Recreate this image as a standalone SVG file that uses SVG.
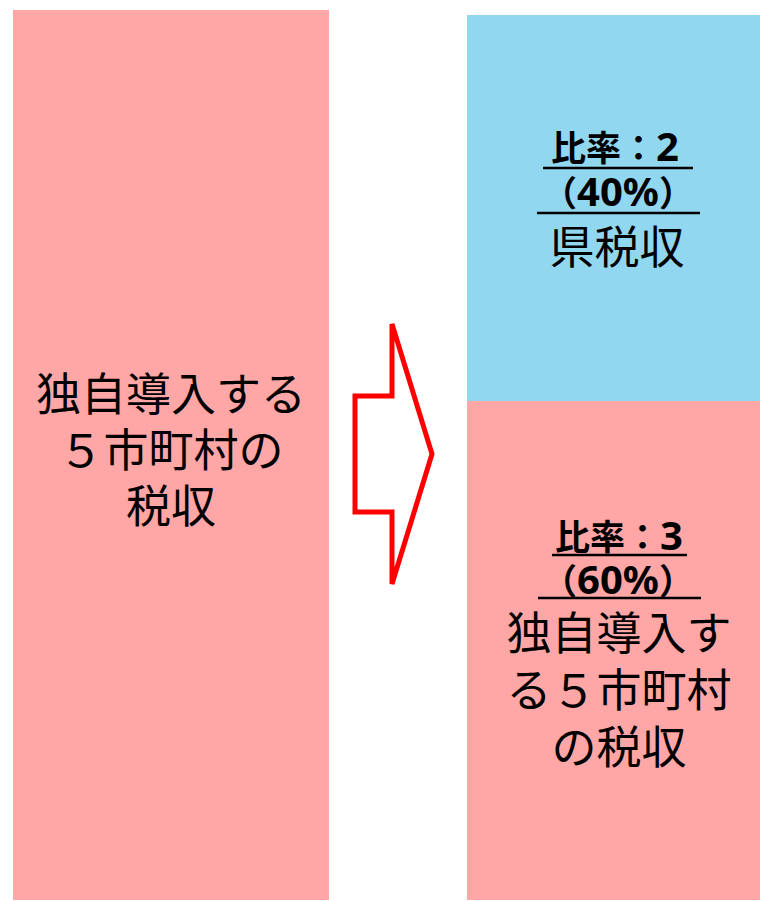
<svg xmlns="http://www.w3.org/2000/svg" width="760" height="901" viewBox="0 0 760 901">
<style>
.t{font-family:"Noto Sans CJK JP","Noto Sans",sans-serif;fill:#000;text-anchor:middle}
.b{font-weight:bold;font-size:35px}
.d{font-family:"Noto Sans","Noto Sans CJK JP",sans-serif;font-size:40px}
.n{font-size:45px}
.ul{stroke:#000;stroke-width:2.5}
</style>
<rect width="760" height="901" fill="#fff"/>
<g id="left">
<rect x="13" y="10" width="316" height="890" fill="#FFA6A6"/>
<text class="t n" x="171" y="411">独自導入する<tspan x="171" dy="56">５市町村の</tspan><tspan x="171" dy="56">税収</tspan></text>
</g>
<g id="pref">
<rect x="467" y="15" width="293" height="386" fill="#91D7EF"/>
<text class="t b" x="615" y="161">比率：<tspan class="d">2</tspan></text>
<line class="ul" x1="543" y1="168" x2="693" y2="168"/>
<text class="t b" x="618" y="206">（<tspan class="d">40%</tspan>）</text>
<line class="ul" x1="537" y1="213" x2="700" y2="213"/>
<text class="t n" x="617" y="264">県税収</text>
</g>
<g id="muni">
<rect x="467" y="401" width="293" height="499" fill="#FFA6A6"/>
<text class="t b" x="619" y="550">比率：<tspan class="d">3</tspan></text>
<line class="ul" x1="552" y1="555" x2="687" y2="555"/>
<text class="t b" x="618" y="594">（<tspan class="d">60%</tspan>）</text>
<line class="ul" x1="538" y1="598" x2="701" y2="598"/>
<text class="t n" x="619" y="650">独自導入す<tspan x="619" dy="57">る５市町村</tspan><tspan x="619" dy="57">の税収</tspan></text>
</g>
<g id="connectors">
<polygon points="355,396 392,396 392,324 432,454 392,584 392,512 355,512" fill="none" stroke="#FF0000" stroke-width="5" stroke-linejoin="miter"/>
</g>
</svg>
